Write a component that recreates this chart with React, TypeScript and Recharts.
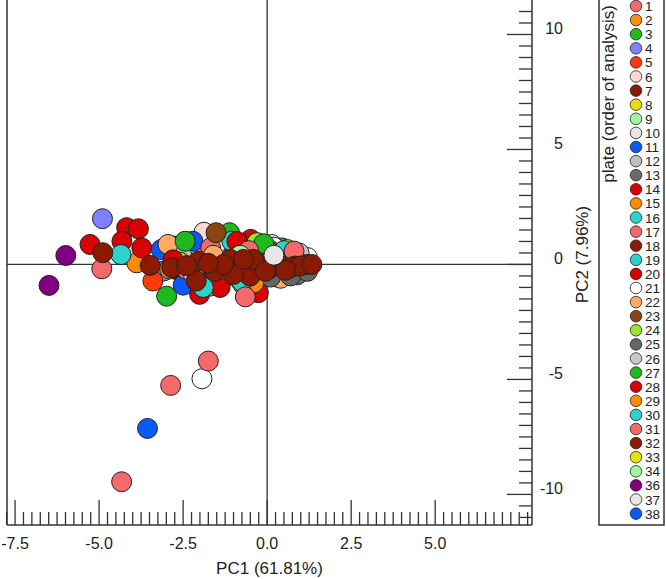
import { ScatterChart, Scatter, XAxis, YAxis, ReferenceLine, CartesianGrid } from 'recharts'

// PCA scores coloured by plate (order of analysis)

const PLATES = [1, 2, 3, 4, 5, 6, 7, 8, 9, 10, 11, 12, 13, 14, 15, 16, 17, 18, 19, 20, 21, 22, 23, 24, 25, 26, 27, 28, 29, 30, 31, 32, 33, 34, 36, 37, 38]

const PLATE_COLORS = [
  '#f46a6a', '#f7901a', '#1fb81f', '#8080ff', '#ff3a0a', '#ffd5d5', '#8b1a05', '#e8dc10',
  '#a0f5a0', '#e6e6e6', '#0a5af5', '#c0c0c0', '#6a6a6a', '#d80000', '#ff8c00', '#2cd3c8',
  '#f46a6a', '#8b1a05', '#2cd3c8', '#d80000', '#ffffff', '#ffaa66', '#8b4513', '#99e62e',
  '#666666', '#c8c8c8', '#1fb81f', '#d80000', '#ff8c00', '#2cd3c8', '#f46a6a', '#8b1a05',
  '#e8e010', '#a0f5a0', '#800080', '#e6e6e6', '#0a5af5',
]

// one row per plate, same order as PLATES
const PC1: number[][] = [
  [-1.2, -0.3, 0.5, -2.0],
  [-1.5, 0.2, -2.3],
  [-1.12, 0.44, -2.8, 0.9],
  [-4.9, -3.09, -1.8],
  [-3.4, -1.7, -0.9],
  [-1.88, -0.5, 0.6],
  [-1.3, 0.1, -2.6],
  [-2.7, -0.8, 0.7],
  [-2.3, 0.3, 1.0],
  [0.14, -1.4, 0.8],
  [-3.15, -2.21, -2.5, -1.0],
  [-2.54, -0.6, 1.0],
  [0.3, 0.9, -0.4],
  [-4.18, -3.83, -4.32, -0.49],
  [-3.88, -2.0, -0.7],
  [-4.35, -1.05, 0.29],
  [-4.92, -2.39, -1.68, -0.36],
  [-1.8, -0.2, 0.5],
  [-1.68, -1.0, 0.7],
  [-5.27, -3.73, -2.01, -0.26],
  [-1.94, 0.2, 1.2],
  [-2.95, -1.6, 0.4],
  [-1.52, -0.8, 0.1],
  [-2.6, -0.3, 0.6],
  [0.1, 0.7, 1.2],
  [-2.2, -0.9, 0.95],
  [-2.99, -2.44, -0.1],
  [-0.9, -1.4, -2.8],
  [-2.9, -0.4, 0.4],
  [-1.9, -0.75, 0.5],
  [-1.75, -2.87, -4.33, -0.65, -0.55, 0.8],
  [-4.89, -3.48, -2.84, -2.04, -2.11, -1.55, -1.1, -0.65, -0.21, 0.39, 0.83, 1.18, -0.51,
    -1.0, 0.68, 0.98, 1.33, -0.41, -0.7, 0.1, -1.3, -1.75, -2.4, 0.55, -0.05],
  [-1.2],
  [-0.8],
  [-6.49, -5.99],
  [0.2],
  [-3.56],
]

const PC2: number[][] = [
  [0.3, -0.2, 0.1, 0.5],
  [-0.3, 0.2, -0.6],
  [1.38, 0.72, 0.8, 0.3],
  [1.99, -0.29, 0.2],
  [-0.72, 1.3, 0.2],
  [1.4, 0.4, 0.4],
  [-0.6, -0.4, -0.3],
  [0.6, -0.7, -0.2],
  [0.3, 0.5, 0.2],
  [0.87, 0.7, -0.3],
  [0.65, 1.01, -0.9, 0.5],
  [0.39, 0.6, -0.1],
  [-0.55, -0.45, -0.5],
  [1.6, 1.55, 1.01, 1.09],
  [0.07, -0.9, -0.9],
  [0.43, 1.01, 0.65],
  [-0.19, -0.22, 0.72, 0.8],
  [-0.1, 0.3, -0.3],
  [-0.94, -0.2, 0.55],
  [0.87, 0.72, -1.3, -1.23],
  [-4.97, 0.75, 0.3],
  [0.87, 0.4, -0.6],
  [1.38, 0.9, 0.6],
  [0.1, 0.95, 0.65],
  [-0.55, -0.5, -0.3],
  [-0.4, -0.5, 0.5],
  [-1.38, 1.01, 0.9],
  [1.0, -1.0, 0.2],
  [-0.2, -0.8, 0.3],
  [-1.0, -0.75, 0.6],
  [-4.2, -5.26, -9.45, -1.41, 0.6, 0.58],
  [0.51, -0.04, -0.14, 0.14, -0.72, -0.29, 0.22, 0.14, 0.07, 0.0, -0.07, 0.0, -0.51,
    -0.43, -0.14, -0.07, 0.0, 0.22, 0.22, -0.15, 0.0, 0.05, -0.05, -0.25, -0.3],
  [-0.2],
  [0.4],
  [-0.91, 0.39],
  [0.4],
  [-7.13],
]

// plates 33/34 sit underneath the big plate-32 cloud in the original
const DRAW_ORDER = [1, 2, 3, 4, 5, 6, 7, 8, 9, 10, 11, 12, 13, 14, 15, 16, 17, 18, 19, 20, 21, 22, 23, 24, 25, 26, 27, 28, 29, 30, 31, 33, 34, 32, 36, 37, 38]

const X_DOMAIN = [-7.74, 7.88]
const Y_DOMAIN = [-11.33, 11.5]
const X_LABELS = [-7.5, -5, -2.5, 0, 2.5, 5]
const Y_LABELS = [-10, -5, 0, 5, 10]

// minor ticks every 0.25 (x) and 0.5 (y)
const X_TICKS: number[] = []
for (let i = -31; i <= 31; i++) X_TICKS.push(i * 0.25)
const Y_TICKS: number[] = []
for (let i = -22; i <= 22; i++) Y_TICKS.push(i * 0.5)

const FONT = '"Liberation Sans", Arial, sans-serif'
const INK = '#333'

function XTick({ x, y, payload }: any) {
  const v = payload.value
  const major = X_LABELS.includes(v)
  return (
    <g>
      <line x1={x} x2={x} y1={y} y2={y - (major ? 25 : 13)} stroke={INK} strokeWidth={1.3} />
      {major && (
        <text x={x} y={y + 24} textAnchor="middle" fontSize={16} fontFamily={FONT} fill="#222">
          {v.toFixed(1)}
        </text>
      )}
    </g>
  )
}

function YTick({ x, y, payload }: any) {
  const v = payload.value
  const major = Y_LABELS.includes(v)
  return (
    <g>
      <line x1={x} x2={x - (major ? 25 : 13)} y1={y} y2={y} stroke={INK} strokeWidth={1.3} />
      {major && (
        <text x={x + 31} y={y} textAnchor="end" fontSize={16} fontFamily={FONT} fill="#222">
          {v}
        </text>
      )}
    </g>
  )
}

function PC2Label({ viewBox }: any) {
  const cx = viewBox.x + 56
  const cy = viewBox.y + viewBox.height / 2 - 8
  return (
    <text x={cx} y={cy} transform={`rotate(-90, ${cx}, ${cy})`} textAnchor="middle"
      fontSize={17} fontFamily={FONT} fill="#222">
      PC2 (7.96%)
    </text>
  )
}

function PlateLegend() {
  return (
    <svg width={67} height={527} style={{ position: 'absolute', left: 598, top: 0 }}>
      <rect x={1} y={-2} width={65} height={527} fill="#fff" stroke={INK} strokeWidth={1.5} />
      <text x={16} y={94} transform="rotate(-90, 16, 94)" textAnchor="middle"
        fontSize={17} fontFamily={FONT} fill="#222">
        plate (order of analysis)
      </text>
      {PLATES.map((p, i) => (
        <g key={p}>
          <circle cx={38} cy={6 + i * 14.1} r={5.8} fill={PLATE_COLORS[i]} stroke="#222" strokeWidth={0.8} />
          <text x={47} y={6 + i * 14.1 + 5} fontSize={13.5} fontFamily={FONT} fill="#222">{p}</text>
        </g>
      ))}
    </svg>
  )
}

export default function App() {
  const series = DRAW_ORDER.map(p => {
    const i = PLATES.indexOf(p)
    return {
      plate: p,
      color: PLATE_COLORS[i],
      data: PC1[i].map((x, j) => ({ x, y: PC2[i][j] })),
    }
  })

  return (
    <div style={{ position: 'absolute', left: 0, top: 0, width: 666, height: 579, background: '#fff' }}>
      <ScatterChart width={666} height={579} margin={{ top: 0, right: 74, bottom: 0, left: 7 }}>
        <CartesianGrid horizontalValues={[0]} verticalValues={[0]} stroke={INK} strokeWidth={1.3} />
        <XAxis
          type="number"
          dataKey="x"
          domain={X_DOMAIN}
          allowDataOverflow
          ticks={X_TICKS}
          interval={0}
          height={54}
          tickSize={0}
          tickMargin={0}
          tickLine={false}
          tick={<XTick />}
          axisLine={{ stroke: INK, strokeWidth: 1.5 }}
          label={{ value: 'PC1 (61.81%)', position: 'insideBottom', offset: 5, fontSize: 17, fontFamily: FONT, fill: '#222' }}
        />
        <YAxis
          type="number"
          dataKey="y"
          orientation="right"
          domain={Y_DOMAIN}
          allowDataOverflow
          ticks={Y_TICKS}
          interval={0}
          width={60}
          tickSize={0}
          tickMargin={0}
          tickLine={false}
          tick={<YTick />}
          axisLine={{ stroke: INK, strokeWidth: 1.5 }}
          label={<PC2Label />}
        />
        <ReferenceLine x={X_DOMAIN[0]} stroke={INK} strokeWidth={1.5} />
        {series.map(s => (
          <Scatter
            key={s.plate}
            name={String(s.plate)}
            data={s.data}
            isAnimationActive={false}
            shape={(props: any) => (
              <circle cx={props.cx} cy={props.cy} r={10} fill={s.color} stroke="#222" strokeWidth={1} />
            )}
          />
        ))}
      </ScatterChart>
      <PlateLegend />
    </div>
  )
}
